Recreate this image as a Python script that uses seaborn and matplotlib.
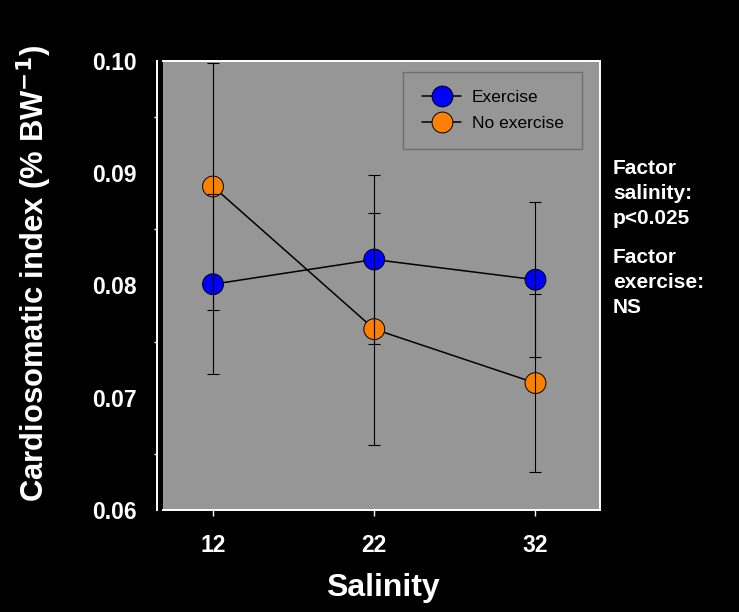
"""Cardiosomatic index vs salinity, exercise vs no exercise."""

import matplotlib.pyplot as plt
import pandas as pd
import seaborn as sns
from matplotlib.lines import Line2D
from matplotlib.ticker import FormatStrFormatter, MultipleLocator

plt.switch_backend("Agg")

SALINITY = [12, 22, 32]
EXERCISE_MEAN = [0.0801, 0.0823, 0.0805]
EXERCISE_ERR = [0.0080, 0.0075, 0.0069]
NO_EXERCISE_MEAN = [0.0888, 0.0761, 0.0713]
NO_EXERCISE_ERR = [0.0110, 0.0103, 0.0079]
GROUPS = ["Exercise", "No exercise"]
COLORS = {"Exercise": "#0000ff", "No exercise": "#ff8000"}


def main() -> None:
    sns.set_style("white")
    plt.rcParams["font.family"] = ["Liberation Sans", "DejaVu Sans"]

    df = pd.DataFrame(
        {
            "salinity": SALINITY * 2,
            "csi": EXERCISE_MEAN + NO_EXERCISE_MEAN,
            "err": EXERCISE_ERR + NO_EXERCISE_ERR,
            "group": [GROUPS[0]] * 3 + [GROUPS[1]] * 3,
        }
    )

    fig = plt.figure(figsize=(7.39, 6.12), dpi=100, facecolor="black")
    ax = fig.add_axes([0.2206, 0.1667, 0.5913, 0.7341])
    ax.set_facecolor("#969696")

    # connecting lines (black), then coloured markers, error bars on top
    sns.lineplot(
        data=df, x="salinity", y="csi", units="group", estimator=None,
        color="black", linewidth=1.1, ax=ax, legend=False, zorder=2,
    )
    sns.scatterplot(
        data=df, x="salinity", y="csi", hue="group", palette=COLORS,
        s=15**2, edgecolor="black", linewidth=0.7, ax=ax, legend=False,
        zorder=3,
    )
    ax.errorbar(
        df["salinity"], df["csi"], yerr=df["err"], fmt="none",
        ecolor="black", elinewidth=0.8, capsize=4, capthick=0.8, zorder=4,
    )

    ax.set_xlim(8.9, 36.0)
    ax.set_ylim(0.06, 0.10)
    ax.set_xticks(SALINITY)
    ax.yaxis.set_major_locator(MultipleLocator(0.01))
    ax.yaxis.set_minor_locator(MultipleLocator(0.005))
    ax.yaxis.set_major_formatter(FormatStrFormatter("%.2f"))

    for side in ["top", "right", "bottom", "left"]:
        ax.spines[side].set_color("white")
        ax.spines[side].set_linewidth(1.4)
    ax.spines["left"].set_position(("outward", 4))

    ax.tick_params(axis="both", which="major", colors="white", length=4,
                   width=1, labelsize=16.5, pad=11)
    ax.tick_params(axis="x", which="major", pad=13)
    ax.tick_params(axis="y", which="minor", colors="white", length=2, width=1,
                   left=True)
    ax.tick_params(axis="x", which="both", bottom=True)
    for lab in ax.get_xticklabels() + ax.get_yticklabels():
        lab.set_fontweight("bold")

    ax.set_xlabel("Salinity", color="white", fontsize=23, fontweight="bold")
    ax.set_ylabel(r"Cardiosomatic index (% BW$^{\mathbf{-1}}$)", color="white",
                  fontsize=22.3, fontweight="bold")
    ax.xaxis.set_label_coords(0.502, -0.140)
    ax.yaxis.set_label_coords(-0.250, 0.526)

    handles = [
        Line2D([], [], color="black", linewidth=1.1, marker="o",
               markersize=15, markerfacecolor=COLORS[g],
               markeredgecolor="black", markeredgewidth=0.7)
        for g in GROUPS
    ]
    leg = ax.legend(
        handles, GROUPS, loc="upper right",
        bbox_to_anchor=(582 / 739, 1 - 72 / 612), bbox_transform=fig.transFigure,
        borderaxespad=0, fontsize=12.5, frameon=True, fancybox=False,
        handlelength=2.3, handletextpad=0.6, labelspacing=0.6, borderpad=1.05,
        facecolor="#969696", edgecolor="#6e6e6e", framealpha=1,
        labelcolor="black",
    )
    leg.get_frame().set_linewidth(1.0)

    fig.text(0.8295, 0.6846, "Factor\nsalinity:\np<0.025", color="white",
             fontsize=15, fontweight="bold", ha="left", va="center",
             linespacing=1.4)
    fig.text(0.8295, 0.5376, "Factor\nexercise:\nNS", color="white",
             fontsize=15, fontweight="bold", ha="left", va="center",
             linespacing=1.4)

    fig.savefig("out.png", dpi=100, facecolor="black")
    plt.close(fig)


if __name__ == "__main__":
    main()
